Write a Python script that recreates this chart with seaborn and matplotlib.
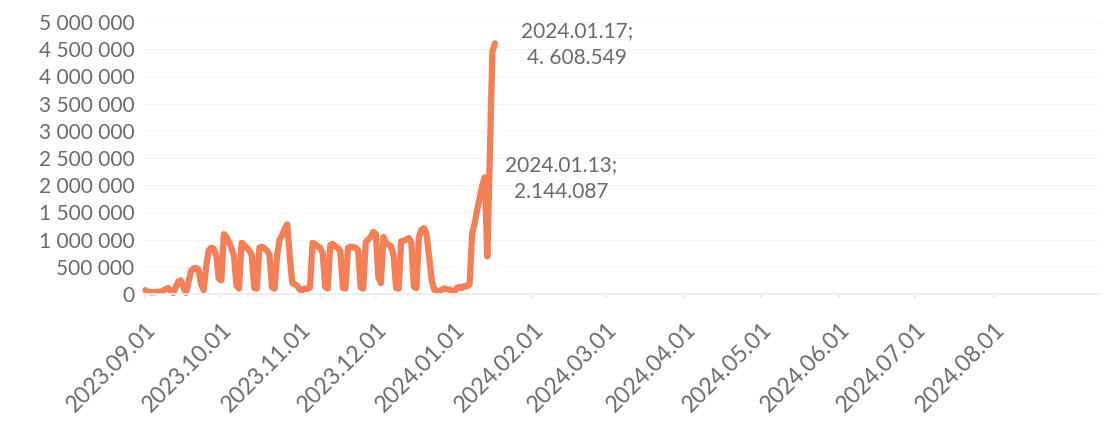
import matplotlib
matplotlib.use("Agg")
import matplotlib.pyplot as plt
import matplotlib.dates as mdates
from matplotlib.ticker import FuncFormatter
import numpy as np
import pandas as pd
import seaborn as sns

# napi értékek (ezerben), 2023.09.01-től 2024.01.17-ig
start_date = "2023-09-01"
values_k = [
    70, 40, 30, 30, 35, 40, 45, 60, 90, 110,            # Sep 1-10
    60, 15, 120, 230, 250, 130, 20, 200, 420, 470,       # Sep 11-20
    480, 450, 180, 70, 500, 800, 850, 830, 700, 280,     # Sep 21-30
    250, 1100, 1050, 950, 850, 700, 150, 100, 940, 900,  # Oct 1-10
    850, 800, 720, 110, 100, 850, 870, 840, 800, 720,    # Oct 11-20
    120, 100, 700, 1000, 1080, 1200, 1280, 700, 200, 180,  # Oct 21-30
    150, 80, 70, 100, 90, 120, 940, 920, 880, 850,       # Oct 31-Nov 9
    750, 130, 100, 900, 920, 880, 850, 780, 110, 100,    # Nov 10-19
    850, 870, 860, 850, 800, 120, 100, 950, 1000, 1050,  # Nov 20-29
    1140, 1100, 300, 200, 1050, 950, 900, 880, 700, 110,  # Nov 30-Dec 9
    100, 970, 980, 1000, 1030, 950, 130, 110, 1050, 1180,  # Dec 10-19
    1210, 1100, 700, 270, 80, 60, 50, 80, 100, 90,       # Dec 20-29
    80, 60, 40, 110, 130, 110, 150, 140, 180, 1100,      # Dec 30-Jan 8
    1300, 1550, 1780, 2000, 2144.087, 690, 2600, 4450, 4608.549,  # Jan 9-17
]
y_ticks = np.arange(0, 5_000_001, 500_000)
x_tick_dates = pd.date_range("2023-09-01", "2024-08-01", freq="MS")
notes = [("2024-01-17", "2024.01.17;\n4. 608.549", 59),
         ("2024-01-13", "2024.01.13;\n2.144.087", 55)]

df = pd.DataFrame({
    "datum": pd.date_range(start_date, periods=len(values_k), freq="D"),
    "ertek": np.array(values_k) * 1000,
})

sns.set_theme(style="white")
plt.rcParams["font.family"] = ["Lato", "DejaVu Sans"]
grey = "#6a6a6a"

fig = plt.figure(figsize=(11.07, 4.21), dpi=100)
ax = fig.add_axes([0.129, 0.3017, 0.865, 0.646])

sns.lineplot(data=df, x="datum", y="ertek", ax=ax, color="#F47F56",
             linewidth=4.5, solid_joinstyle="round", solid_capstyle="round",
             clip_on=False)

ax.set_ylim(0, 5_000_000)
ax.set_xlim(pd.Timestamp("2023-08-31"), pd.Timestamp("2024-09-12"))
ax.set_yticks(y_ticks)
ax.yaxis.set_major_formatter(FuncFormatter(lambda v, _: f"{v:,.0f}".replace(",", " ")))
ax.set_xticks(x_tick_dates)
ax.xaxis.set_major_formatter(mdates.DateFormatter("%Y.%m.%d"))
plt.setp(ax.get_xticklabels(), rotation=45, ha="right", rotation_mode="anchor")

ax.tick_params(axis="y", labelsize=15, labelcolor=grey, length=0, pad=6)
ax.tick_params(axis="x", labelsize=16.5, labelcolor=grey, length=3, color="#e6e6e6",
               bottom=True, pad=15)
ax.set_xlabel("")
ax.set_ylabel("")
ax.grid(axis="y", color="#f3f3f3", linewidth=0.8)
for side in ["top", "right", "left"]:
    ax.spines[side].set_visible(False)
ax.spines["bottom"].set_color("#ececec")

val_map = dict(zip(df["datum"], df["ertek"]))
for d, txt, dx in notes:
    dt = pd.Timestamp(d)
    ax.annotate(txt, xy=(dt, val_map[dt]), xytext=(dx, -1), textcoords="offset points",
                ha="center", va="center", fontsize=15, color=grey, linespacing=1.45)

fig.savefig("out.png", dpi=100)
